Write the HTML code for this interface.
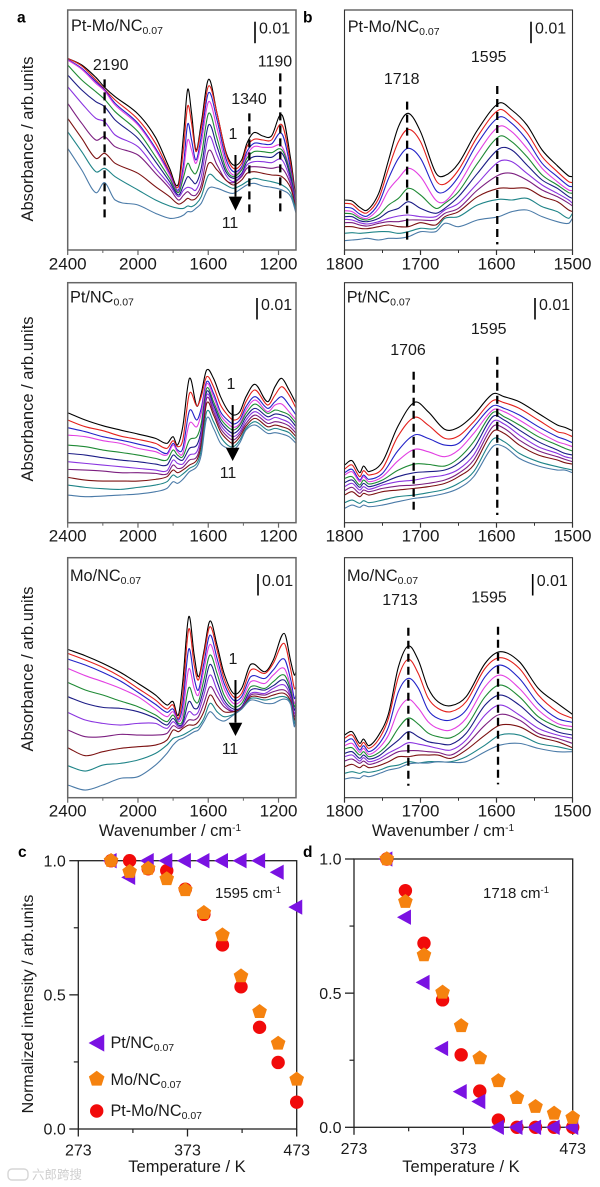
<!DOCTYPE html>
<html lang="en">
<head>
<meta charset="utf-8">
<title>Spectra and normalized intensity</title>
<style>
html,body{margin:0;padding:0;background:#fff;}
svg{display:block;font-family:"Liberation Sans",Arial,sans-serif;fill:#1a1a1a;}
</style>
</head>
<body>
<svg id="chart" xmlns="http://www.w3.org/2000/svg" width="600" height="1187" viewBox="0 0 600 1187"></svg>
<script>
/* ---------- spectra data: absorbance in arbitrary units, wavenumber in cm-1 ---------- */
const curveColors = ['#000000','#e3201c','#2323c8','#e23fe2','#1f8a35','#1c1c86','#8a34e0','#7c1f80','#7c1212','#1f8488','#4b7ba8'];

const a1Wavenumbers = [2400,2320,2240,2190,2130,2000,1900,1820,1770,1740,1717,1695,1670,1640,1598,1550,1500,1457,1410,1380,1340,1290,1240,1180,1130,1100];
const a1Curves = [
[575,555,518,488,460,408,338,245,198,350,482,410,300,380,512,410,295,255,270,320,352,342,342,405,270,150],
[575,552,510,482,450,392,320,235,190,310,432,380,295,365,492,410,290,245,260,310,332,330,330,375,255,145],
[572,545,505,480,440,380,305,230,180,260,378,330,270,340,472,390,275,235,250,295,320,318,318,348,240,140],
[570,542,500,477,435,375,300,225,175,240,330,300,260,320,445,365,260,225,245,285,310,308,308,310,230,138],
[555,510,475,452,415,355,280,215,172,220,260,240,230,280,410,335,245,220,240,275,295,295,292,300,225,135],
[525,480,445,430,390,335,265,205,165,195,220,210,200,245,375,310,235,215,230,265,280,280,278,290,215,132],
[490,440,395,385,345,310,245,195,160,180,188,185,180,220,340,285,225,205,225,255,265,265,262,270,205,130],
[440,380,330,340,310,285,230,185,150,165,175,165,165,195,298,255,210,202,220,245,250,248,245,245,195,125],
[395,335,275,290,260,230,190,160,138,145,155,150,155,180,260,240,210,195,210,230,235,230,225,220,185,122],
[355,295,235,245,220,180,150,132,125,125,132,130,138,160,225,210,195,185,195,205,215,210,205,195,170,118],
[305,240,172,202,150,135,110,95,98,105,115,115,125,140,185,185,175,170,185,195,200,192,188,180,160,110]
];

const a2Wavenumbers = [2400,2300,2200,2100,2000,1900,1835,1800,1775,1745,1707,1665,1640,1609,1570,1530,1490,1457,1420,1385,1333,1262,1220,1182,1140,1100];
const a2Curves = [
[330,308,291,278,266,253,238,258,233,288,433,350,388,458,433,378,338,323,333,378,415,363,408,433,398,358],
[308,288,276,260,250,238,223,246,228,248,388,350,378,438,408,353,323,308,318,363,398,353,383,408,383,343],
[285,273,258,248,236,223,208,238,218,223,336,308,343,423,388,333,308,296,308,348,378,343,363,378,353,323],
[263,258,246,238,223,213,203,233,213,208,298,288,328,416,378,323,298,286,298,338,368,333,353,356,333,308],
[233,228,218,211,203,193,188,218,203,198,248,258,298,403,363,313,288,278,293,328,356,328,338,333,323,298],
[208,203,195,188,183,176,173,203,193,188,223,233,278,393,353,303,278,268,283,318,343,318,326,323,313,288],
[183,178,173,168,163,158,156,188,178,176,203,213,263,383,343,293,268,258,273,308,333,308,316,310,300,278],
[160,158,155,150,150,148,146,173,163,166,188,198,248,373,333,283,258,248,266,298,323,298,303,300,290,268],
[136,128,125,125,125,130,138,158,150,158,173,188,233,358,323,273,248,238,258,290,313,288,293,288,280,258],
[113,106,102,100,106,113,123,143,136,146,163,178,218,333,303,258,233,228,248,283,303,278,283,278,270,248],
[83,78,80,83,86,93,103,123,118,130,153,168,203,313,283,238,223,218,240,278,293,268,270,266,258,238]
];

const a3Wavenumbers = [2400,2300,2200,2100,2000,1900,1835,1800,1770,1745,1711,1680,1656,1625,1590,1550,1510,1457,1410,1358,1277,1230,1168,1130,1110,1100];
const a3Curves = [
[445,426,403,376,343,308,278,288,248,348,543,428,363,438,530,458,373,313,328,400,378,413,493,408,368,378],
[433,413,391,363,328,293,266,278,238,308,506,398,353,428,513,443,358,303,313,383,373,403,463,383,328,333],
[416,398,376,350,316,280,256,266,233,278,446,358,323,403,488,418,343,293,303,363,358,383,416,353,298,308],
[388,366,348,328,303,266,243,258,228,253,386,328,308,383,460,398,328,283,293,348,343,368,388,333,283,298],
[346,323,308,290,273,248,228,248,223,233,330,293,288,353,428,373,308,273,283,333,328,348,368,323,273,288],
[303,283,271,268,258,238,218,238,218,223,288,268,273,328,400,348,293,266,273,323,323,336,353,313,263,278],
[256,233,223,218,223,223,208,228,213,218,258,248,258,308,368,323,283,260,270,313,313,328,338,303,253,268],
[203,183,183,190,188,188,193,216,208,213,233,233,243,283,333,303,273,258,268,308,308,318,323,298,243,263],
[150,126,138,148,153,158,173,203,198,208,218,218,228,258,308,278,258,258,268,303,300,308,313,288,233,258],
[96,80,98,103,113,133,158,178,183,188,198,208,213,238,283,258,243,250,266,298,293,298,303,283,223,253],
[38,23,38,58,63,98,133,158,173,178,188,198,203,228,258,238,230,248,266,293,283,283,296,278,213,248]
];

const b1Wavenumbers = [1800,1790,1780,1770,1755,1742,1729,1716,1700,1680,1668,1650,1625,1597,1580,1560,1540,1520,1505,1500];
const b1Curves = [
[150,147,128,120,170,270,370,410,355,232,223,260,360,440,420,375,300,253,222,220],
[140,137,118,112,155,245,325,362,325,210,198,240,340,420,398,352,280,235,205,202],
[128,125,108,102,140,215,275,305,275,180,175,220,320,398,380,330,260,220,192,190],
[118,115,100,95,125,180,215,245,220,150,145,195,290,370,355,305,245,205,180,178],
[110,108,95,90,105,135,155,185,165,125,140,175,260,340,325,280,225,195,172,170],
[100,100,88,85,95,115,125,145,125,110,125,160,230,303,300,255,210,185,160,155],
[92,90,82,78,85,95,102,105,100,100,120,140,200,265,265,230,195,170,150,140],
[82,82,75,72,80,85,85,90,90,90,110,125,180,225,230,210,180,160,140,132],
[70,70,65,64,70,75,70,70,82,75,100,115,160,185,185,185,160,145,120,115],
[50,52,50,52,55,55,50,55,65,65,95,100,135,152,150,155,130,115,95,110],
[28,30,32,35,30,35,35,40,55,55,80,70,90,100,115,120,100,85,80,95]
];

const b2Wavenumbers = [1800,1790,1780,1775,1768,1750,1730,1708,1690,1668,1650,1630,1605,1590,1570,1545,1520,1510,1500];
const b2Curves = [
[173,186,150,170,153,183,288,361,333,280,286,323,386,378,363,328,293,286,276],
[161,173,138,156,143,163,258,316,293,253,260,303,366,360,343,308,273,268,258],
[150,160,128,143,130,148,215,263,253,233,238,288,350,343,323,288,258,250,240],
[143,153,123,138,123,138,185,220,213,198,218,268,338,333,308,273,243,236,228],
[133,138,113,128,116,128,157,176,175,170,193,243,330,318,293,258,233,223,215],
[120,128,106,118,108,120,138,150,153,158,178,223,318,308,278,243,218,208,203],
[108,118,98,108,100,113,123,128,136,143,160,203,303,296,263,228,208,198,193],
[96,106,88,98,93,103,110,113,118,128,148,188,288,283,248,216,198,190,183],
[83,93,78,88,83,93,98,103,108,118,138,173,273,268,233,203,188,180,176],
[60,68,58,66,60,68,78,83,90,100,118,153,250,243,208,183,168,163,158],
[43,53,46,53,48,53,63,73,78,88,103,138,228,228,193,170,158,158,150]
];

const b3Wavenumbers = [1800,1790,1780,1775,1768,1755,1742,1729,1716,1703,1690,1677,1660,1640,1615,1595,1570,1545,1520,1500];
const b3Curves = [
[188,198,163,176,156,188,253,393,455,413,329,288,276,303,403,438,408,328,283,250],
[178,188,153,166,148,175,239,363,415,373,299,268,258,288,388,420,388,308,258,238],
[166,176,143,156,138,160,213,318,358,329,263,238,233,263,363,398,358,283,238,226],
[156,163,136,148,130,148,188,263,295,269,228,208,203,238,333,368,328,263,223,213],
[146,150,128,138,123,135,163,209,239,221,194,183,180,213,303,338,303,243,213,203],
[133,138,118,128,116,125,149,173,198,183,168,163,160,193,278,308,278,228,198,188],
[123,128,110,120,108,116,134,149,165,161,155,148,143,173,248,278,248,208,188,178],
[110,116,103,110,100,108,123,138,141,141,138,136,128,158,218,250,233,193,178,163],
[93,100,90,98,90,96,108,123,123,128,128,128,118,143,188,218,213,183,168,150],
[73,78,73,78,76,82,93,98,108,104,108,108,108,123,158,188,188,163,153,143],
[56,60,58,66,63,72,83,89,101,104,104,108,106,108,138,158,163,148,138,138]
];

/* ---------- intensity-vs-temperature data ---------- */
const temperatures = [303,320,337,354,371,388,405,422,439,456,473];
const c_PtMo = [1,1,0.97,0.963,0.894,0.80,0.686,0.53,0.379,0.248,0.10];
const c_Mo = [1,0.959,0.971,0.932,0.891,0.806,0.723,0.57,0.437,0.319,0.185];
const c_Pt = [1,0.938,1,1,1,1,1,1,1,0.957,0.827];
const d_PtMo = [1,0.882,0.686,0.475,0.27,0.135,0.027,0,0,0,0];
const d_Mo = [1,0.841,0.642,0.503,0.378,0.258,0.173,0.11,0.077,0.052,0.036];
const d_Pt = [1,0.783,0.54,0.294,0.133,0.096,0,0,0,0,0];
const tempTicks = [273,373,473];
const tempMinorTicks = [323,423];
const intensityTicks = [0,0.5,1];
const intensityTickLabels = ['0.0','0.5','1.0'];
const intensityMinorTicks = [0.25,0.75];

const aTicks = [2400,2000,1600,1200];
const aMinorTicks = [2200,1800,1400];
const bTicks = [1800,1700,1600,1500];
const bMinorTicks = [1750,1650,1550];

/* ---------- drawing helpers ---------- */
const NS = 'http://www.w3.org/2000/svg';
const root = document.getElementById('chart');

function make(tag, props, parent) {
  const el = document.createElementNS(NS, tag);
  for (const k in props) el.setAttribute(k, props[k]);
  (parent || root).appendChild(el);
  return el;
}
function group(name, parent) {
  const g = make('g', {}, parent);
  
  
  return g;
}
function line(name, x1, y1, x2, y2, stroke, width, parent, dash) {
  const props = {x1, y1, x2, y2, stroke, 'stroke-width': width};
  if (dash) props['stroke-dasharray'] = dash;
  const el = make('line', props, parent);
  
  
  return el;
}
function label(name, str, x, y, size, anchor, parent, extra) {
  const props = Object.assign({x, y, 'font-size': size, 'text-anchor': anchor || 'start'}, extra || {});
  const el = make('text', props, parent);
  
  
  el.textContent = str;
  return el;
}
function labelWithScript(name, main, script, x, y, size, scriptSize, shift, parent, anchor) {
  const el = label(name, main, x, y, size, anchor || 'start', parent);
  const t = make('tspan', {dy: shift, 'font-size': scriptSize}, el);
  t.textContent = script;
  return el;
}
function smoothPath(xs, ys) {
  const n = xs.length;
  const slope = i => {
    const a = Math.max(i - 1, 0), b = Math.min(i + 1, n - 1);
    return (ys[b] - ys[a]) / (xs[b] - xs[a]);
  };
  let d = 'M' + xs[0].toFixed(2) + ' ' + ys[0].toFixed(2);
  for (let i = 0; i < n - 1; i++) {
    const h = (xs[i + 1] - xs[i]) / 3;
    d += 'C' + (xs[i] + h).toFixed(2) + ' ' + (ys[i] + slope(i) * h).toFixed(2) + ' ' +
         (xs[i + 1] - h).toFixed(2) + ' ' + (ys[i + 1] - slope(i + 1) * h).toFixed(2) + ' ' +
         xs[i + 1].toFixed(2) + ' ' + ys[i + 1].toFixed(2);
  }
  return d;
}

/* ---------- spectrum panel ---------- */
function spectrumPanel(p) {
  const g = group(p.name);
  const xScale = w => p.left + (p.domain[0] - w) / (p.domain[0] - p.domain[1]) * (p.right - p.left);
  const yScale = v => p.bottom - v / 720 * (p.bottom - p.top);

  const series = group(p.name + '-curves', g);
  p.curves.forEach((curve, i) => {
    const path = make('path', {
      d: smoothPath(p.wavenumbers.map(xScale), curve.map(yScale)),
      fill: 'none', stroke: curveColors[i], 'stroke-width': 1.1, 'stroke-linejoin': 'round'
    }, series);
    
    
  });

  const frame = make('rect', {x: p.left, y: p.top, width: p.right - p.left, height: p.bottom - p.top,
    fill: 'none', stroke: p.frameColor, 'stroke-width': p.frameWidth}, g);
  
  

  p.ticks.forEach(t => {
    line('x-tick-' + t, xScale(t), p.bottom, xScale(t), p.bottom + 5, p.frameColor, 1.2, g);
    label('x-tick-label-' + t, String(t), xScale(t), p.tickBaseline, 17, 'middle', g);
  });
  p.minorTicks.forEach(t => {
    line('x-minor-tick-' + t, xScale(t), p.bottom, xScale(t), p.bottom + 3, p.frameColor, 1, g);
  });

  p.bands.forEach(b => {
    line('band-marker-' + b.label, xScale(b.w), yScale(b.top), xScale(b.w), yScale(b.bottom), '#000', 2.3, g, '8 5');
    label('band-label-' + b.label, b.label, b.lx, b.ly, 16, 'middle', g);
  });

  if (p.arrow) {
    const ax = xScale(p.arrow.w);
    line('cooling-arrow-shaft', ax, yScale(p.arrow.top), ax, yScale(p.arrow.base), '#000', 2, g);
    const head = make('polygon', {
      points: (ax - 6.8) + ',' + yScale(p.arrow.base) + ' ' + (ax + 6.8) + ',' + yScale(p.arrow.base) + ' ' + ax + ',' + yScale(p.arrow.tip),
      fill: '#000'
    }, g);
    
    
    label('first-curve-label', '1', p.arrow.n1[0], p.arrow.n1[1], 16, 'middle', g);
    label('last-curve-label', '11', p.arrow.n11[0], p.arrow.n11[1], 16, 'middle', g);
  }

  labelWithScript('sample-title', p.title, '0.07', p.titleX, p.titleY, 16.3, 10.5, 3, g);
  line('absorbance-scale-bar', p.barX, p.barTop, p.barX, p.barTop + 21.5, '#000', 1.6, g);
  label('scale-bar-value', '0.01', p.barX + 4, p.barTop + 12, 16, 'start', g);
  if (p.yTitleY) {
    label('y-axis-title', 'Absorbance / arb.units', 0, 0, 16.5, 'middle', g,
      {transform: 'translate(33,' + p.yTitleY + ') rotate(-90)'});
  }
  if (p.xTitleX) {
    labelWithScript('x-axis-title', 'Wavenumber / cm', '-1', p.xTitleX, 836, 16.5, 10, -5, g, 'middle');
  }
}

spectrumPanel({name:'panel-a-pt-mo', left:67.7, right:296, top:10, bottom:250, domain:[2400,1100.5],
  wavenumbers:a1Wavenumbers, curves:a1Curves, ticks:aTicks, minorTicks:aMinorTicks, tickBaseline:269.5,
  frameColor:'#666', frameWidth:1.5, title:'Pt-Mo/NC', titleX:71, titleY:31, barX:255, barTop:21.7, yTitleY:139,
  bands:[{label:'2190',w:2190,top:512,bottom:90,lx:110.7,ly:70},{label:'1340',w:1366,top:410,bottom:105,lx:249,ly:104},{label:'1190',w:1190,top:530,bottom:105,lx:275,ly:66.7}],
  arrow:{w:1445,top:285,base:160,tip:118,n1:[233,139],n11:[230,228]}});

spectrumPanel({name:'panel-a-pt', left:67.7, right:296, top:282.7, bottom:522.7, domain:[2400,1100.5],
  wavenumbers:a2Wavenumbers, curves:a2Curves, ticks:aTicks, minorTicks:aMinorTicks, tickBaseline:541.7,
  frameColor:'#666', frameWidth:1.5, title:'Pt/NC', titleX:70, titleY:302.7, barX:257, barTop:298, yTitleY:399,
  bands:[],
  arrow:{w:1461,top:353,base:225,tip:185,n1:[231,389],n11:[228,478]}});

spectrumPanel({name:'panel-a-mo', left:67.7, right:296, top:557.7, bottom:797.7, domain:[2400,1100.5],
  wavenumbers:a3Wavenumbers, curves:a3Curves, ticks:aTicks, minorTicks:aMinorTicks, tickBaseline:816.7,
  frameColor:'#666', frameWidth:1.5, title:'Mo/NC', titleX:70, titleY:581, barX:258, barTop:574, yTitleY:669, xTitleX:170,
  bands:[],
  arrow:{w:1445,top:353,base:225,tip:185,n1:[233,664],n11:[230,754]}});

spectrumPanel({name:'panel-b-pt-mo', left:344.5, right:572.5, top:10, bottom:250, domain:[1800,1500],
  wavenumbers:b1Wavenumbers, curves:b1Curves, ticks:bTicks, minorTicks:bMinorTicks, tickBaseline:269.5,
  frameColor:'#333', frameWidth:1.1, title:'Pt-Mo/NC', titleX:347.7, titleY:32, barX:531, barTop:21.7,
  bands:[{label:'1718',w:1717.6,top:445,bottom:20,lx:401.7,ly:84},{label:'1595',w:1599,top:492,bottom:17,lx:488.7,ly:62}]});

spectrumPanel({name:'panel-b-pt', left:344.5, right:572.5, top:282.7, bottom:522.7, domain:[1800,1500],
  wavenumbers:b2Wavenumbers, curves:b2Curves, ticks:bTicks, minorTicks:bMinorTicks, tickBaseline:541.7,
  frameColor:'#333', frameWidth:1.1, title:'Pt/NC', titleX:346.7, titleY:302.7, barX:535, barTop:298,
  bands:[{label:'1706',w:1709,top:453,bottom:28,lx:408,ly:355},{label:'1595',w:1599,top:498,bottom:23,lx:488.7,ly:334}]});

spectrumPanel({name:'panel-b-mo', left:344.5, right:572.5, top:557.7, bottom:797.7, domain:[1800,1500],
  wavenumbers:b3Wavenumbers, curves:b3Curves, ticks:bTicks, minorTicks:bMinorTicks, tickBaseline:816.7,
  frameColor:'#333', frameWidth:1.1, title:'Mo/NC', titleX:347, titleY:581, barX:532.7, barTop:574, xTitleX:443,
  bands:[{label:'1713',w:1716,top:510,bottom:36,lx:400,ly:605},{label:'1595',w:1598,top:513,bottom:40,lx:489,ly:602.7}]});

/* ---------- markers ---------- */
function trianglePoints(cx, cy, s) {
  return (cx - 8 * s) + ',' + cy + ' ' + (cx + 5.3 * s) + ',' + (cy - 7.3 * s) + ' ' + (cx + 5.3 * s) + ',' + (cy + 7.3 * s);
}
function pentagonPoints(cx, cy, r) {
  const pts = [];
  for (let i = 0; i < 5; i++) {
    const a = -Math.PI / 2 + i * 2 * Math.PI / 5;
    pts.push((cx + r * Math.cos(a)).toFixed(2) + ',' + (cy + r * Math.sin(a)).toFixed(2));
  }
  return pts.join(' ');
}
function circleMark(name, cx, cy, r, parent) {
  const el = make('circle', {cx, cy, r, fill: '#f10a0a'}, parent);
  
  
}
function triangleMark(name, cx, cy, s, parent) {
  const el = make('polygon', {points: trianglePoints(cx, cy, s), fill: '#7a12e2'}, parent);
  
  
}
function pentagonMark(name, cx, cy, r, parent) {
  const el = make('polygon', {points: pentagonPoints(cx, cy, r), fill: '#f5820f'}, parent);
  
  
}

/* ---------- intensity panel ---------- */
function intensityPanel(p) {
  const g = group(p.name);
  const xScale = t => p.left + (t - 273) / 200 * (p.right - p.left);
  const yScale = v => p.bottom - v * (p.bottom - p.top);

  const frame = make('rect', {x: p.left, y: p.top, width: p.right - p.left, height: p.bottom - p.top,
    fill: 'none', stroke: '#222', 'stroke-width': 1.3}, g);
  
  

  tempTicks.forEach(t => {
    line('x-tick-' + t, xScale(t), p.bottom, xScale(t), p.bottom + 7.5, '#222', 1.3, g);
    label('x-tick-label-' + t, String(t), xScale(t), p.xLabelY, 16, 'middle', g);
  });
  tempMinorTicks.forEach(t => {
    line('x-minor-tick-' + t, xScale(t), p.bottom, xScale(t), p.bottom + 4, '#222', 1.2, g);
  });
  intensityTicks.forEach((v, i) => {
    line('y-tick-' + intensityTickLabels[i], p.left - 9, yScale(v), p.left, yScale(v), '#222', 1.3, g);
    label('y-tick-label-' + intensityTickLabels[i], intensityTickLabels[i], p.left - 12.5, yScale(v) + 5.6, 16, 'end', g);
  });
  intensityMinorTicks.forEach(v => {
    line('y-minor-tick-' + v, p.left - 4.5, yScale(v), p.left, yScale(v), '#222', 1.2, g);
  });

  const red = group('pt-mo-series', g);
  temperatures.forEach((t, i) => circleMark('pt-mo-point-' + t, xScale(t), yScale(p.ptMo[i]), 6.7, red));
  const violet = group('pt-series', g);
  temperatures.forEach((t, i) => triangleMark('pt-point-' + t, xScale(t), yScale(p.pt[i]), 1.05, violet));
  const orange = group('mo-series', g);
  temperatures.forEach((t, i) => pentagonMark('mo-point-' + t, xScale(t), yScale(p.mo[i]), 7.7, orange));

  label('x-axis-title', 'Temperature / K', p.xTitleX, 1172, 16.5, 'middle', g);
  labelWithScript('band-annotation', p.note + ' cm', '-1', p.noteX, 898, 15, 9.5, -5, g);
}

intensityPanel({name:'panel-c', left:78.3, right:296.7, top:860.7, bottom:1129, xLabelY:1155.7,
  xTitleX:187, ptMo:c_PtMo, mo:c_Mo, pt:c_Pt, note:'1595', noteX:215});
intensityPanel({name:'panel-d', left:354, right:572.7, top:859, bottom:1127.3, xLabelY:1154,
  xTitleX:461, ptMo:d_PtMo, mo:d_Mo, pt:d_Pt, note:'1718', noteX:483});

label('y-axis-title-intensity', 'Normalized intensity / arb.units', 0, 0, 16, 'middle', root,
  {transform: 'translate(33,1004) rotate(-90)'});

/* ---------- legend ---------- */
const legend = group('legend');
triangleMark('legend-marker-pt', 98, 1043, 1.18, legend);
labelWithScript('legend-entry-pt', 'Pt/NC', '0.07', 110.5, 1048, 16.2, 10.5, 3, legend);
pentagonMark('legend-marker-mo', 96.7, 1079, 8.2, legend);
labelWithScript('legend-entry-mo', 'Mo/NC', '0.07', 110.5, 1085, 16.2, 10.5, 3, legend);
circleMark('legend-marker-pt-mo', 96.7, 1111, 6.7, legend);
labelWithScript('legend-entry-pt-mo', 'Pt-Mo/NC', '0.07', 110.5, 1116, 16.2, 10.5, 3, legend);

/* ---------- panel letters & watermark ---------- */
const letters = [['a',17,22.7],['b',303,22.7],['c',18,857],['d',303,857]];
letters.forEach(l => {
  label('panel-letter-' + l[0], l[0], l[1], l[2], 15.5, 'start', root, {'font-weight': 'bold', fill: '#000'});
});
const wm = label('watermark', '六郎跨搜', 32, 1179, 12.5, 'start', root, {fill: '#cfcfcf'});
wm.style.fontFamily = '"Liberation Sans","Noto Sans CJK SC",sans-serif';
const wmIcon = make('rect', {x: 8, y: 1169, width: 20, height: 11, rx: 4, fill: 'none', stroke: '#d6d6d6', 'stroke-width': 1.4});


</script>
</body>
</html>
